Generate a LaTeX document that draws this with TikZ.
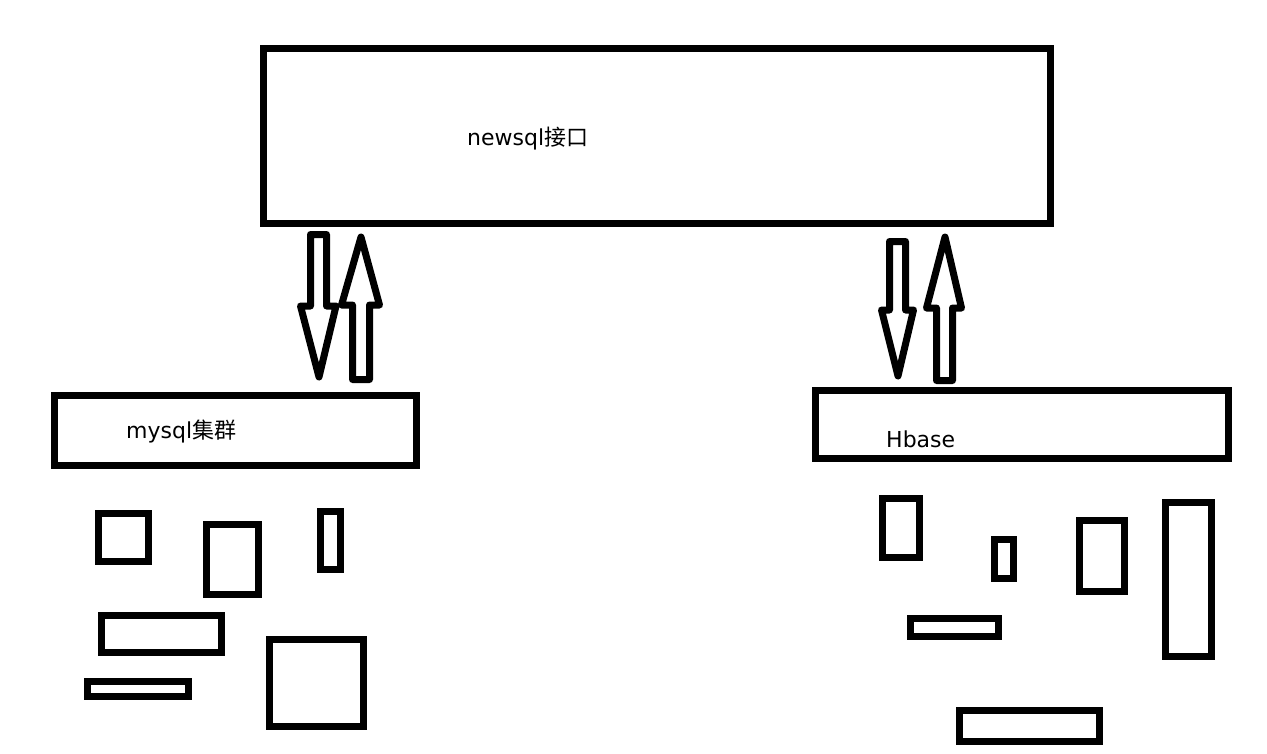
\documentclass[tikz,border=0pt]{standalone}
\usepackage{fontspec}
\newfontfamily\latinfont{DejaVu Sans}
\newfontfamily\cjk{Noto Sans CJK SC}

\begin{document}
\begin{tikzpicture}[x=1pt, y=-1pt,
  box/.style={draw=black, line width=7pt, line join=miter},
  fat/.style={draw=black, line width=7pt, line join=round},
  lbl/.style={anchor=base west, inner sep=0pt, font=\latinfont\fontsize{22}{22}\selectfont}]
\useasboundingbox (0, 0) rectangle (1267, 753);

\draw[box] (263.5, 48.5) rectangle (1050.5, 223.5);
\draw[box] (54.5, 395.5) rectangle (416.5, 465.5);
\draw[box] (815.5, 390.5) rectangle (1228.5, 458.5);

\node[lbl] (newsql) at (467, 145) {newsql{\cjk 接口}};
\node[lbl] (mysql) at (126, 438) {mysql{\cjk 集群}};
\node[lbl] (hbase) at (886, 447) {Hbase};

% arrows mysql side
\draw[fat] (310.5, 234.5) -- (326.5, 234.5) -- (326.5, 306) -- (336, 306) -- (319, 377) -- (300.5, 306) -- (310.5, 306) -- cycle;
\draw[fat] (352.5, 379.5) -- (369.5, 379.5) -- (369.5, 305) -- (379.5, 305) -- (361, 237) -- (341.5, 305) -- (352.5, 305) -- cycle;

% arrows hbase side
\draw[fat] (889.5, 241.5) -- (905.5, 241.5) -- (905.5, 310) -- (913.5, 310) -- (898, 376) -- (881.5, 310) -- (889.5, 310) -- cycle;
\draw[fat] (936.5, 380.5) -- (952.5, 380.5) -- (952.5, 308) -- (961.5, 308) -- (945, 237) -- (926.5, 308) -- (936.5, 308) -- cycle;

% mysql nodes
\draw[box] (98.5, 513.5) rectangle (148.5, 561.5);
\draw[box] (206.5, 524.5) rectangle (258.5, 594.5);
\draw[box] (320.5, 511.5) rectangle (340.5, 569.5);
\draw[box] (101.5, 615.5) rectangle (221.5, 652.5);
\draw[box] (87.5, 681.5) rectangle (188.5, 696.5);
\draw[box] (269.5, 639.5) rectangle (363.5, 726.5);

% hbase nodes
\draw[box] (882.5, 498.5) rectangle (919.5, 557.5);
\draw[box] (994.5, 539.5) rectangle (1013.5, 578.5);
\draw[box] (1079.5, 520.5) rectangle (1124.5, 591.5);
\draw[box] (1165.5, 502.5) rectangle (1211.5, 656.5);
\draw[box] (910.5, 618.5) rectangle (998.5, 636.5);
\draw[box] (959.5, 710.5) rectangle (1099.5, 741.5);

\end{tikzpicture}
\end{document}
